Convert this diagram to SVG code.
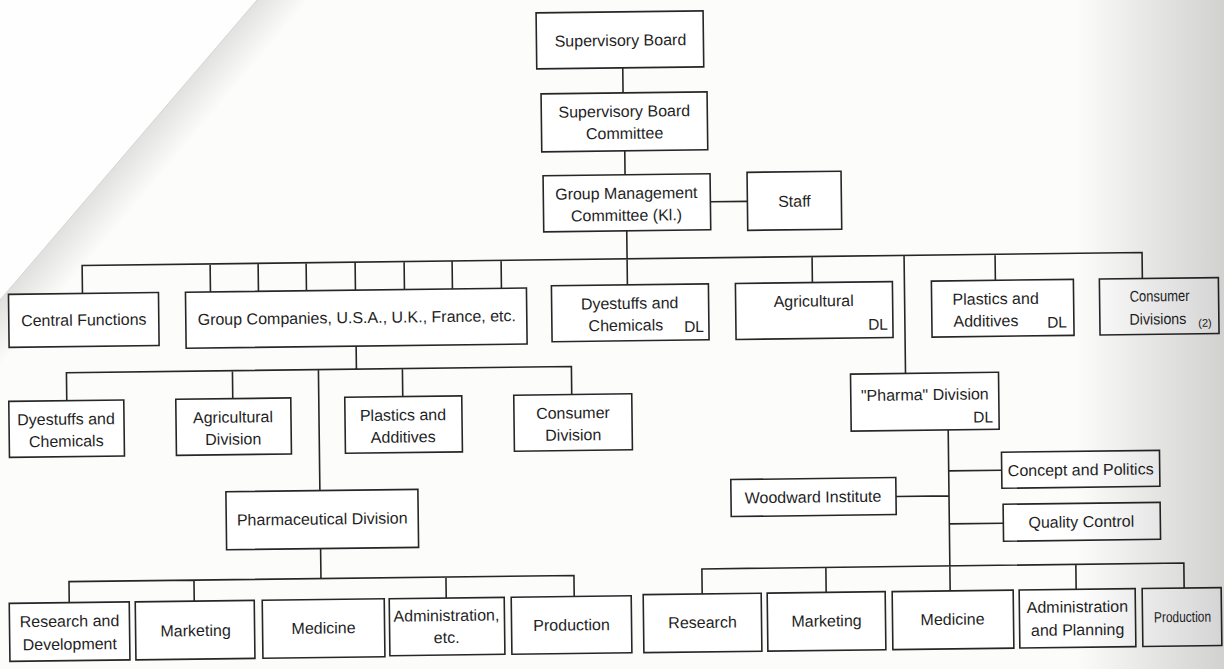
<svg xmlns="http://www.w3.org/2000/svg" width="1224" height="669" viewBox="0 0 1224 669">
  <defs>
    <style>
      .box { fill: #ffffff; stroke: #262626; stroke-width: 1.6; }
      .lbl { font-family: "Liberation Sans", Arial, Helvetica, sans-serif; font-size: 16px; fill: #1f1f1f; text-anchor: middle; }
      .dl { font-family: "Liberation Sans", Arial, Helvetica, sans-serif; font-size: 15.5px; fill: #1f1f1f; text-anchor: end; }
      .note { font-family: "Liberation Sans", Arial, Helvetica, sans-serif; font-size: 11px; fill: #1f1f1f; text-anchor: middle; }
      .wire { fill: none; stroke: #262626; stroke-width: 1.6; }
    </style>
    <!-- shading along the curled page edge on the left -->
    <linearGradient id="foldShade" gradientUnits="userSpaceOnUse" x1="128" y1="150" x2="160" y2="177">
      <stop offset="0" stop-color="#000" stop-opacity="0.11"/>
      <stop offset="1" stop-color="#000" stop-opacity="0"/>
    </linearGradient>
    <!-- binding shadow on the right -->
    <linearGradient id="spineShade" gradientUnits="userSpaceOnUse" x1="1075" y1="0" x2="1224" y2="0">
      <stop offset="0" stop-color="#000" stop-opacity="0"/>
      <stop offset="0.35" stop-color="#000" stop-opacity="0.06"/>
      <stop offset="1" stop-color="#000" stop-opacity="0.17"/>
    </linearGradient>
  </defs>

  <!-- paper -->
  <rect x="0" y="0" width="1224" height="669" fill="#fcfcfb"/>
  <polygon points="0,0 257,0 0,300" fill="#fefefe"/>
  <polygon points="257,0 1224,0 1224,669 0,669 0,300" fill="url(#foldShade)"/>
  <line x1="257" y1="0" x2="0" y2="300" stroke="#d6d6d6" stroke-width="1"/>

  <g id="chart" transform="rotate(-0.7 612 334)">
    <g id="connectors">
      <path class="wire" d="M626 68 V93 M627 151 V175 M712 203 H749 M628 231 V285
        M83 287 V259 H1143 V285
        M211 259 V287 M259 259 V287 M307 259 V287 M356 259 V287 M405 259 V287 M453 259 V287 M502 259 V287
        M813 259 V285 M905 259 V377 M996 259 V285
        M356 343 V366 M66 394 V366 H571 V394 M232 366 V394 M402 366 V394 M318 366 V487
        M318 545 V575 M66 596 V575 H571 V596 M191 575 V596 M443 575 V596
        M947 434 V595 M947 475 H1000 M894 500 H947 M947 528 H1001
        M699 595 V570 H1181 V595 M823 570 V595 M1073 570 V595"/>
    </g>

    <g id="supervisory-board">
      <rect class="box" x="540" y="12" width="167" height="56"/>
      <text class="lbl" x="624" y="46">Supervisory Board</text>
    </g>
    <g id="supervisory-board-committee">
      <rect class="box" x="544" y="93" width="166" height="58"/>
      <text class="lbl" x="627" y="117">Supervisory Board</text>
      <text class="lbl" x="627" y="139">Committee</text>
    </g>
    <g id="group-management-committee">
      <rect class="box" x="545" y="175" width="167" height="56"/>
      <text class="lbl" x="628" y="199">Group Management</text>
      <text class="lbl" x="628" y="221">Committee (Kl.)</text>
    </g>
    <g id="staff">
      <rect class="box" x="749" y="174" width="94" height="58"/>
      <text class="lbl" x="796" y="209">Staff</text>
    </g>

    <g id="central-functions">
      <rect class="box" x="9" y="287" width="150" height="53"/>
      <text class="lbl" x="84" y="319">Central Functions</text>
    </g>
    <g id="group-companies">
      <rect class="box" x="186" y="287" width="341" height="56"/>
      <text class="lbl" x="357" y="320">Group Companies, U.S.A., U.K., France, etc.</text>
    </g>
    <g id="dyestuffs-chemicals-dl">
      <rect class="box" x="552" y="285" width="157" height="56"/>
      <text class="lbl" x="630" y="309">Dyestuffs and</text>
      <text class="lbl" x="626" y="331">Chemicals</text>
      <text class="dl" x="704" y="333">DL</text>
    </g>
    <g id="agricultural-dl">
      <rect class="box" x="736" y="285" width="157" height="56"/>
      <text class="lbl" x="814" y="309">Agricultural</text>
      <text class="dl" x="888" y="333">DL</text>
    </g>
    <g id="plastics-additives-dl">
      <rect class="box" x="932" y="285" width="142" height="56"/>
      <text class="lbl" x="996" y="309">Plastics and</text>
      <text class="lbl" x="986" y="331">Additives</text>
      <text class="dl" x="1067" y="333">DL</text>
    </g>
    <g id="consumer-divisions">
      <rect class="box" x="1100" y="285" width="119" height="56"/>
      <text class="lbl" x="1160" y="308" style="font-size:15.5px" textLength="60" lengthAdjust="spacingAndGlyphs">Consumer</text>
      <text class="lbl" x="1158" y="331" style="font-size:15.5px" textLength="57" lengthAdjust="spacingAndGlyphs">Divisions</text>
      <text class="note" x="1205" y="334">(2)</text>
    </g>

    <g id="gc-dyestuffs-chemicals">
      <rect class="box" x="8" y="394" width="115" height="56"/>
      <text class="lbl" x="65" y="418">Dyestuffs and</text>
      <text class="lbl" x="65" y="440">Chemicals</text>
    </g>
    <g id="gc-agricultural-division">
      <rect class="box" x="175" y="394" width="115" height="56"/>
      <text class="lbl" x="232" y="418">Agricultural</text>
      <text class="lbl" x="232" y="440">Division</text>
    </g>
    <g id="gc-plastics-additives">
      <rect class="box" x="344" y="394" width="117" height="56"/>
      <text class="lbl" x="402" y="418">Plastics and</text>
      <text class="lbl" x="402" y="440">Additives</text>
    </g>
    <g id="gc-consumer-division">
      <rect class="box" x="513" y="394" width="118" height="56"/>
      <text class="lbl" x="572" y="418">Consumer</text>
      <text class="lbl" x="572" y="440">Division</text>
    </g>
    <g id="pharmaceutical-division">
      <rect class="box" x="224" y="487" width="192" height="58"/>
      <text class="lbl" x="320" y="521">Pharmaceutical Division</text>
    </g>

    <g id="gc-research-development">
      <rect class="box" x="6" y="596" width="120" height="58"/>
      <text class="lbl" x="66" y="620">Research and</text>
      <text class="lbl" x="66" y="643">Development</text>
    </g>
    <g id="gc-marketing">
      <rect class="box" x="132" y="596" width="119" height="58"/>
      <text class="lbl" x="192" y="631">Marketing</text>
    </g>
    <g id="gc-medicine">
      <rect class="box" x="259" y="596" width="122" height="58"/>
      <text class="lbl" x="320" y="630">Medicine</text>
    </g>
    <g id="gc-administration">
      <rect class="box" x="386" y="596" width="115" height="57"/>
      <text class="lbl" x="443" y="619">Administration,</text>
      <text class="lbl" x="443" y="641">etc.</text>
    </g>
    <g id="gc-production">
      <rect class="box" x="508" y="596" width="120" height="57"/>
      <text class="lbl" x="568" y="630">Production</text>
    </g>

    <g id="pharma-division">
      <rect class="box" x="850" y="377" width="148" height="57"/>
      <text class="lbl" x="924" y="404">"Pharma" Division</text>
      <text class="dl" x="992" y="427">DL</text>
    </g>
    <g id="concept-politics">
      <rect class="box" x="1000" y="457" width="158" height="36"/>
      <text class="lbl" x="1079" y="481">Concept and Politics</text>
    </g>
    <g id="woodward-institute">
      <rect class="box" x="729" y="481" width="165" height="37"/>
      <text class="lbl" x="811" y="505">Woodward Institute</text>
    </g>
    <g id="quality-control">
      <rect class="box" x="1001" y="509" width="157" height="37"/>
      <text class="lbl" x="1079" y="533">Quality Control</text>
    </g>

    <g id="ph-research">
      <rect class="box" x="640" y="595" width="118" height="58"/>
      <text class="lbl" x="699" y="629">Research</text>
    </g>
    <g id="ph-marketing">
      <rect class="box" x="764" y="595" width="118" height="58"/>
      <text class="lbl" x="823" y="629">Marketing</text>
    </g>
    <g id="ph-medicine">
      <rect class="box" x="889" y="595" width="121" height="58"/>
      <text class="lbl" x="949" y="629">Medicine</text>
    </g>
    <g id="ph-administration-planning">
      <rect class="box" x="1016" y="595" width="116" height="58"/>
      <text class="lbl" x="1074" y="618">Administration</text>
      <text class="lbl" x="1074" y="641">and Planning</text>
    </g>
    <g id="ph-production">
      <rect class="box" x="1139" y="595" width="79" height="58"/>
      <text class="lbl" x="1179" y="629" style="font-size:15px" textLength="57" lengthAdjust="spacingAndGlyphs">Production</text>
    </g>
  </g>

  <!-- binding shadow over the right margin -->
  <rect x="1075" y="0" width="149" height="669" fill="url(#spineShade)"/>
</svg>
